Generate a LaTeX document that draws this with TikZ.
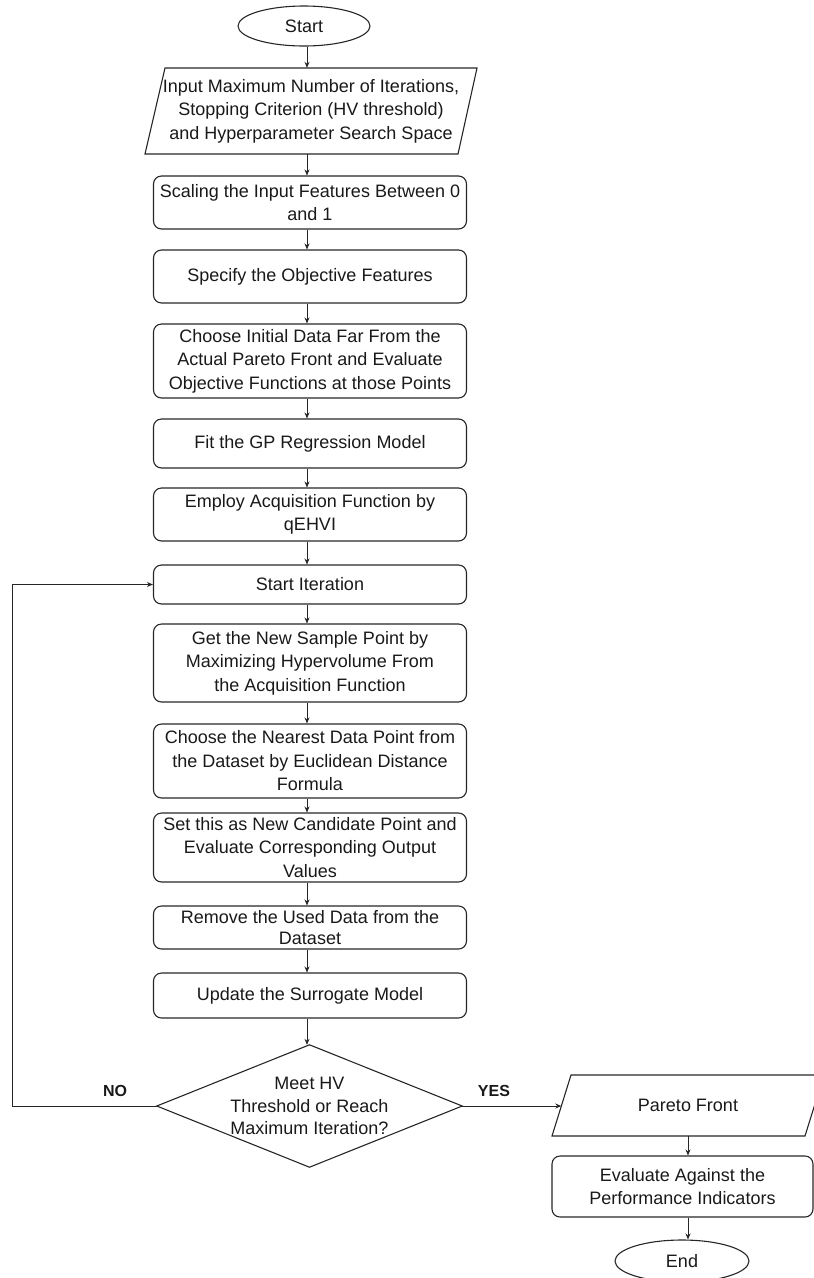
\documentclass[tikz,border=0pt]{standalone}
\usepackage{fontspec}
\setmainfont{Liberation Sans}
\usetikzlibrary{arrows.meta,shapes.geometric}
\begin{document}
\begin{tikzpicture}[x=1pt,y=-1pt,
  every node/.style={font=\fontsize{18}{23.5}\selectfont, text=black!90},
  box/.style={draw=black!85, line width=1.1pt, rounded corners=8pt, minimum width=313pt, align=center, inner sep=0pt},
  term/.style={draw=black!85, line width=1.1pt, ellipse, inner sep=0pt},
  plain/.style={draw=none, align=center, inner sep=0pt},
  shp/.style={draw=black!85, line width=1.1pt, line join=miter},
  arr/.style={draw=black!85, line width=0.9pt, -{Stealth[length=6pt,width=5pt]}},
  lbl/.style={font=\fontsize{16}{18}\selectfont\bfseries, text=black!90}
]
\useasboundingbox (0,0) rectangle (814,1278);
\clip (0,0) rectangle (814,1278);

\coordinate (colx) at (307,0);

\node[term, minimum width=132pt, minimum height=40pt] (start) at (304,26) {Start};

\node[plain, minimum width=312pt, minimum height=86pt] (input) at (311,111) {Input Maximum Number of Iterations,\\Stopping Criterion (HV threshold)\\and Hyperparameter Search Space};
\draw[shp] (165,68) -- (477,68) -- (458,154) -- (145,154) -- cycle;

\node[box, minimum height=53pt] (scale) at (310,202.5) {Scaling the Input Features Between 0\\and 1};
\node[box, minimum height=53pt] (spec) at (310,276.5) {Specify the Objective Features};
\node[box, minimum height=74pt] (init) at (310,361) {Choose Initial Data Far From the\\Actual Pareto Front and Evaluate\\Objective Functions at those Points};
\node[box, minimum height=49pt] (fit) at (310,443.5) {Fit the GP Regression Model};
\node[box, minimum height=53pt] (employ) at (310,514.5) {Employ Acquisition Function by\\qEHVI};
\node[box, minimum height=39pt] (iter) at (310,584.5) {Start Iteration};
\node[box, minimum height=78pt] (getnew) at (310,663) {Get the New Sample Point by\\Maximizing Hypervolume From\\the Acquisition Function};
\node[box, minimum height=74pt] (nearest) at (310,761) {Choose the Nearest Data Point from\\the Dataset by Euclidean Distance\\Formula};
\node[box, minimum height=69pt] (setc) at (310,847.5) {Set this as New Candidate Point and\\Evaluate Corresponding Output\\Values};
\node[box, minimum height=43pt, font=\fontsize{18}{21}\selectfont] (remove) at (310,927.5) {Remove the Used Data from the\\Dataset};
\node[box, minimum height=45pt] (update) at (310,995.5) {Update the Surrogate Model};

\node[plain, minimum width=305pt, minimum height=122pt, font=\fontsize{18}{22.5}\selectfont] (dec) at (309.5,1106) {Meet HV\\Threshold or Reach\\Maximum Iteration?};
\draw[shp] (dec.north) -- (dec.east) -- (dec.south) -- (dec.west) -- cycle;

\node[plain, minimum width=253pt, minimum height=61pt] (pareto) at (688,1105.5) {Pareto Front};
\draw[shp] (571,1075) -- (824,1075) -- (805,1136) -- (552,1136) -- cycle;

\node[box, minimum width=261pt, minimum height=61pt] (eval) at (682.5,1186.5) {Evaluate Against the\\Performance Indicators};
\node[term, minimum width=134pt, minimum height=42pt] (end) at (682,1261) {End};

\node[lbl] (no) at (115,1091) {NO};
\node[lbl] (yes) at (494,1091) {YES};

% connectors
\draw[arr] (colx |- start.south) -- (colx |- input.north);
\draw[arr] (colx |- input.south) -- (colx |- scale.north);
\draw[arr] (colx |- scale.south) -- (colx |- spec.north);
\draw[arr] (colx |- spec.south) -- (colx |- init.north);
\draw[arr] (colx |- init.south) -- (colx |- fit.north);
\draw[arr] (colx |- fit.south) -- (colx |- employ.north);
\draw[arr] (colx |- employ.south) -- (colx |- iter.north);
\draw[arr] (colx |- iter.south) -- (colx |- getnew.north);
\draw[arr] (colx |- getnew.south) -- (colx |- nearest.north);
\draw[arr] (colx |- nearest.south) -- (colx |- setc.north);
\draw[arr] (colx |- setc.south) -- (colx |- remove.north);
\draw[arr] (colx |- remove.south) -- (colx |- update.north);
\draw[arr] (colx |- update.south) -- (colx |- dec.north);
\draw[arr] (dec.west) -- ++(-144,0) |- (iter.west);
\draw[arr] (dec.east) -- (dec.east -| pareto.west);
\draw[arr] (pareto.south) -- (pareto.south |- eval.north);
\draw[arr] (pareto.south |- eval.south) -- (pareto.south |- end.north);
\end{tikzpicture}
\end{document}
